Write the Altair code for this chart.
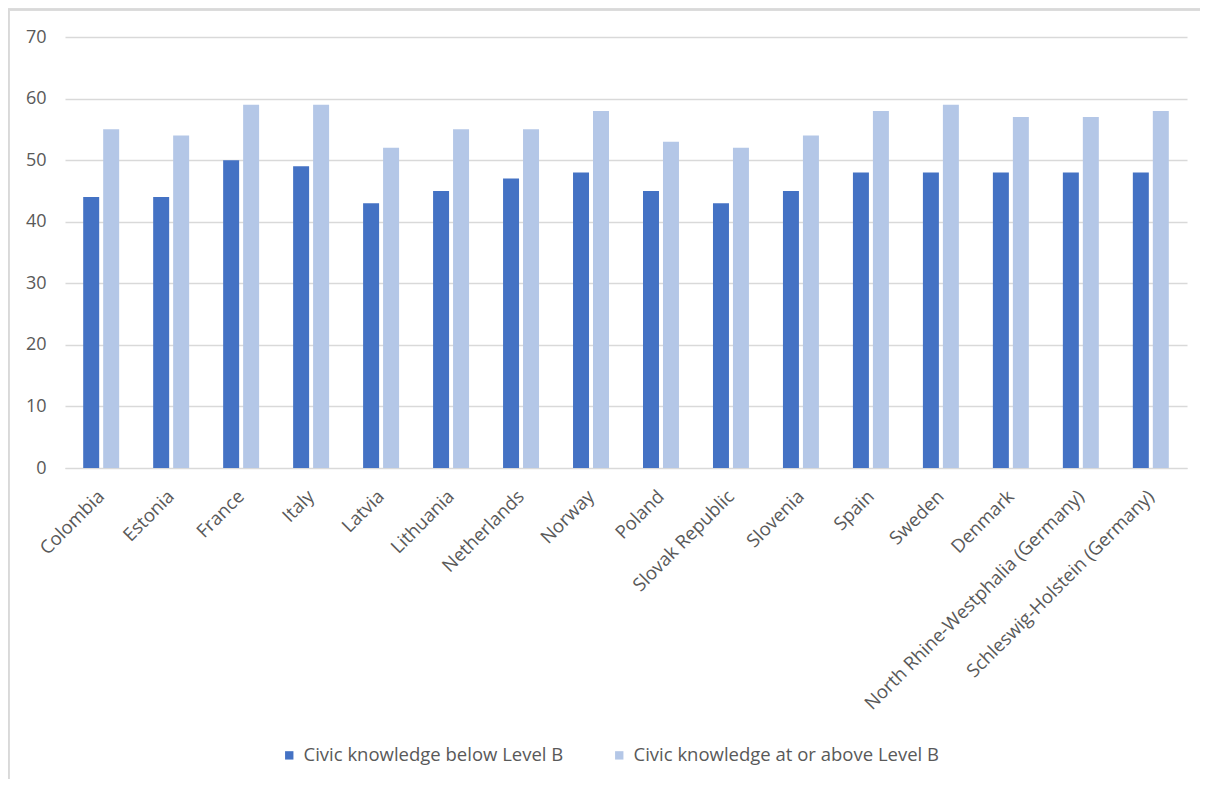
import altair as alt
import pandas as pd

countries = ["Colombia", "Estonia", "France", "Italy", "Latvia", "Lithuania",
             "Netherlands", "Norway", "Poland", "Slovak Republic", "Slovenia",
             "Spain", "Sweden", "Denmark", "North Rhine-Westphalia (Germany)",
             "Schleswig-Holstein (Germany)"]
below = [44, 44, 50, 49, 43, 45, 47, 48, 45, 43, 45, 48, 48, 48, 48, 48]
above = [55, 54, 59, 59, 52, 55, 55, 58, 53, 52, 54, 58, 59, 57, 57, 58]
series = ["Civic knowledge below Level B", "Civic knowledge at or above Level B"]
colors = ["#4472C4", "#B4C7E7"]

rows = []
for c, b, a in zip(countries, below, above):
    rows.append({"country": c, "series": series[0], "value": b})
    rows.append({"country": c, "series": series[1], "value": a})
df = pd.DataFrame(rows)

FONT = "Open Sans"
GRAY = "#595959"

bars = alt.Chart(df).mark_bar().encode(
    x=alt.X("country:N", sort=countries, title=None,
            scale=alt.Scale(paddingInner=0.486, paddingOuter=0.26),
            axis=alt.Axis(labelAngle=-45, labelAlign="right", labelBaseline="middle",
                          labelPadding=25, ticks=False, domain=True,
                          domainColor="#d9d9d9", labelColor=GRAY, labelFont=FONT,
                          labelFontSize=18.5, labelLimit=0, grid=False)),
    xOffset=alt.XOffset("series:N", sort=series,
                        scale=alt.Scale(paddingInner=0.2, paddingOuter=0)),
    y=alt.Y("value:Q", title=None,
            scale=alt.Scale(domain=[0, 70]),
            axis=alt.Axis(values=list(range(0, 71, 10)), ticks=False, domain=False,
                          grid=True, gridColor="#d9d9d9", gridWidth=1.3,
                          labelColor=GRAY, labelFont=FONT, labelFontSize=18,
                          labelPadding=19)),
    color=alt.Color("series:N", sort=series,
                    scale=alt.Scale(domain=series, range=colors),
                    legend=alt.Legend(title=None, orient="none", legendX=215, legendY=709,
                                      direction="horizontal", columns=2,
                                      columnPadding=46, symbolType="square",
                                      symbolSize=70, symbolStrokeWidth=0,
                                      labelFont=FONT, labelFontSize=18.5, labelLimit=0,
                                      labelColor=GRAY, labelOffset=5)),
)

frame_left = alt.Chart(df).mark_rule(color="#d9d9d9", strokeWidth=1.5).encode(
    x=alt.value(-56.5), y=alt.value(-28), y2=alt.value(745))
frame_top = alt.Chart(df).mark_rule(color="#d9d9d9", strokeWidth=1.5).encode(
    x=alt.value(-57), x2=alt.value(1135), y=alt.value(-27.5))

chart = alt.layer(bars, frame_left, frame_top).properties(
    width=1122, height=431,
    background="white",
    autosize=alt.AutoSizeParams(type="none"),
    padding={"left": 57, "top": 29, "right": 13, "bottom": 311},
).configure_view(strokeWidth=0, stroke=None)

chart.save("out.html", embed_options={"renderer": "svg", "actions": False})
